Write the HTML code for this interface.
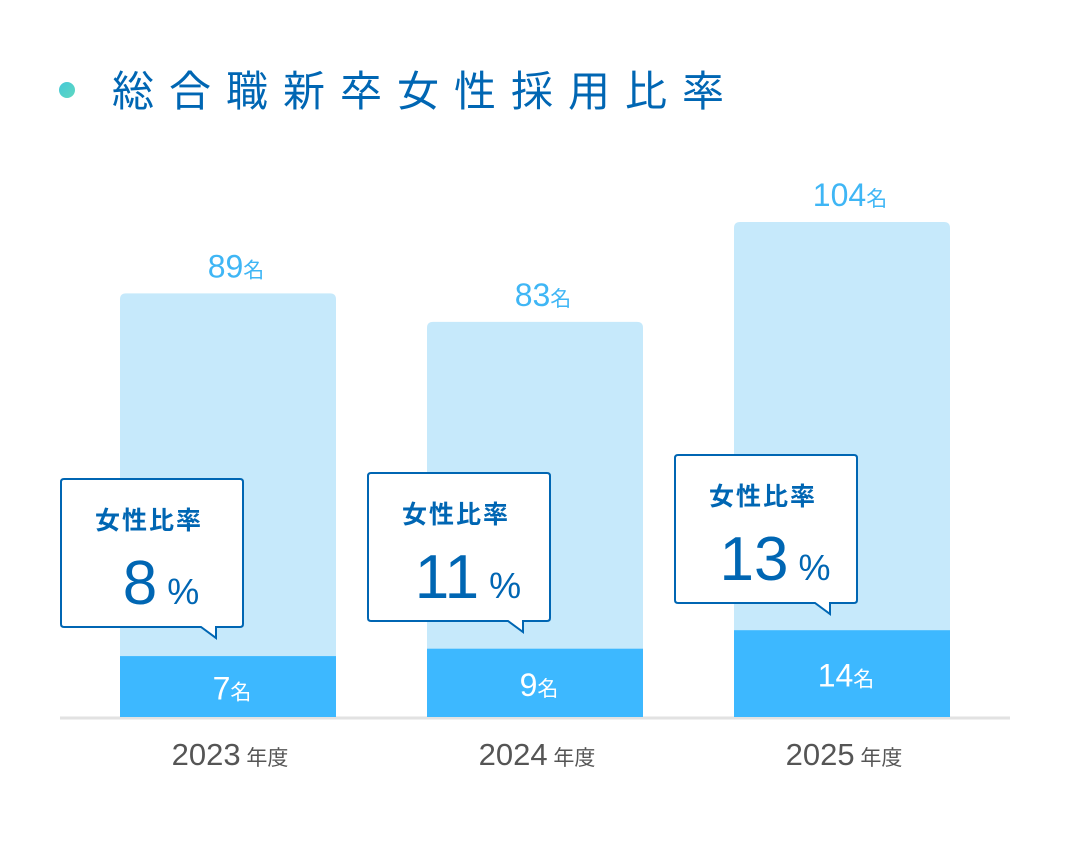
<!DOCTYPE html>
<html><head><meta charset="utf-8"><style>
body{margin:0;background:#fff;font-family:"Liberation Sans","Noto Sans CJK JP",sans-serif;}
#wrap{position:relative;width:1070px;height:850px;overflow:hidden;}
</style></head><body>
<div id="wrap">
<svg id="chart" width="1070" height="850">
<defs><linearGradient id="g" x1="0" y1="0" x2="1" y2="1"><stop offset="0" stop-color="#45c8d8"/><stop offset="1" stop-color="#5fd8c0"/></linearGradient></defs>
<circle cx="67" cy="90" r="8" fill="url(#g)"/>
<text x="112" y="106" font-size="42" fill="#0066b3" letter-spacing="15">総合職新卒女性採用比率</text>
<line x1="60" y1="718" x2="1010" y2="718" stroke="#e2e2e2" stroke-width="3"/>
</svg>
</div>
<script>
const categories=["2023","2024","2025"];
const totals=[89,83,104];
const women=[7,9,14];
const ratios=["8","11","13"];
const svg=document.getElementById('chart');
const NS="http://www.w3.org/2000/svg";
const base=717, barW=216;
const xPos=i=>120+i*307;
const yTotal=v=>base-v*4.76;
const hWomen=v=>35+v*3.7;
function mk(tag,attrs,parent){const e=document.createElementNS(NS,tag);for(const k in attrs)e.setAttribute(k,attrs[k]);(parent||svg).appendChild(e);return e;}
const boxY=[479,473,455];
categories.forEach((c,i)=>{
  const x=xPos(i), yt=yTotal(totals[i]);
  const bar=mk('path',{d:`M${x} ${base}V${yt+6}Q${x} ${yt} ${x+6} ${yt}H${x+barW-6}Q${x+barW} ${yt} ${x+barW} ${yt+6}V${base}Z`,fill:'#c6e9fb'});
  
  
  const hw=hWomen(women[i]);
  const wb=mk('rect',{x:x,y:base-hw,width:barW,height:hw,fill:'#3db8ff'});
  
  
  const tl=mk('text',{x:x+barW/2+8,y:yt-16,'text-anchor':'middle',fill:'#3fb6f5','font-size':32});
  tl.innerHTML=totals[i]+'<tspan font-size="21">名</tspan>';
  
  
  const wl=mk('text',{x:x+barW/2+4,y:base-hw/2+13,'text-anchor':'middle',fill:'#fff','font-size':32});
  wl.innerHTML=women[i]+'<tspan font-size="21">名</tspan>';
  
  
  const yl=mk('text',{x:x+barW/2+2,y:765,'text-anchor':'middle',fill:'#555','font-size':31});
  yl.innerHTML=c+'<tspan font-size="21"> 年度</tspan>';
  
  
  const bx=x-59, by=boxY[i], bw=182, bh=148;
  const cb=mk('path',{d:`M${bx+3} ${by}H${bx+bw-3}Q${bx+bw} ${by} ${bx+bw} ${by+3}V${by+bh-3}Q${bx+bw} ${by+bh} ${bx+bw-3} ${by+bh}H${bx+155}V${by+159}L${bx+140} ${by+bh}H${bx+3}Q${bx} ${by+bh} ${bx} ${by+bh-3}V${by+3}Q${bx} ${by} ${bx+3} ${by}Z`,fill:'#fff',stroke:'#0066b3','stroke-width':2});
  
  
  const ct=mk('text',{x:bx+88,y:by+50,'text-anchor':'middle',fill:'#0066b3','font-size':25,'font-weight':'bold','letter-spacing':2});
  ct.textContent='女性比率';
  
  
  const rv=mk('text',{x:bx+100,y:by+125,'text-anchor':'middle',fill:'#0066b3','font-size':62});
  rv.innerHTML=ratios[i]+'<tspan font-size="36" dx="10">%</tspan>';
  
  
});
</script>
</body></html>
